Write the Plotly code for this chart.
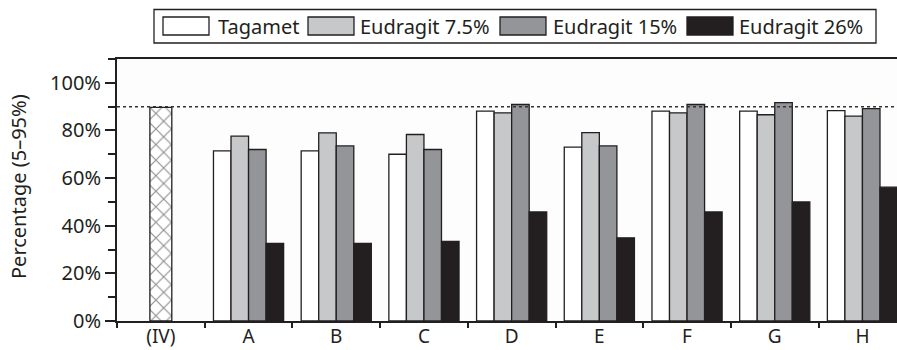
import plotly.graph_objects as go

# Categories and series values (percent)
categories = ["(IV)", "A", "B", "C", "D", "E", "F", "G", "H"]
groups = ["A", "B", "C", "D", "E", "F", "G", "H"]
iv_value = [89.7]
tagamet = [71.4, 71.4, 70.0, 88.1, 73.0, 88.1, 88.1, 88.3]
eud_7_5 = [77.6, 79.0, 78.3, 87.4, 79.1, 87.4, 86.6, 86.0]
eud_15 = [72.0, 73.5, 72.0, 90.9, 73.5, 90.9, 91.7, 89.2]
eud_26 = [32.6, 32.6, 33.4, 45.8, 34.9, 45.8, 50.0, 56.2]
reference_level = 90
y_ticks = [0, 20, 40, 60, 80, 100]
y_tick_text = [f"{v}%" for v in y_ticks]

series_names = ["Tagamet", "Eudragit 7.5%", "Eudragit 15%", "Eudragit 26%"]
series_values = [tagamet, eud_7_5, eud_15, eud_26]
colors = ["#ffffff", "#c7c8ca", "#939598", "#231f20"]
ink = "#231f20"
font_family = "Noto Sans, Open Sans, DejaVu Sans, sans-serif"

W, H = 897, 350
L, R, T, B = 117, 0, 59, 29
BAR_W = 0.2

fig = go.Figure()

fig.add_trace(go.Bar(
    x=["(IV)"], y=iv_value, width=0.25, offset=-0.125,
    marker=dict(color="#ffffff", line=dict(color=ink, width=1.3),
                pattern=dict(shape="x", fgcolor=ink, bgcolor="#ffffff",
                             size=11, solidity=0.2, fillmode="overlay")),
    showlegend=False, hoverinfo="x+y",
))

for i, (name, vals, col) in enumerate(zip(series_names, series_values, colors)):
    fig.add_trace(go.Bar(
        x=groups, y=vals, name=name, width=BAR_W, offset=-0.4 + i * BAR_W,
        marker=dict(color=col, line=dict(color=ink, width=1.3)),
        showlegend=False,
    ))

x_max = -0.5 + (W - L - R) / 87.7

# Reference line at 90 %
fig.add_shape(type="line", xref="paper", yref="y", x0=0, x1=1,
              y0=reference_level, y1=reference_level,
              line=dict(color="#333", width=1.5, dash="3px,3px"), layer="above")

# Legend box drawn in pixel space converted to paper coordinates
pw, ph = W - L - R, H - T - B
def px(x):
    return (x - L) / pw
def py(y):
    return (H - B - y) / ph

fig.add_shape(type="rect", xref="paper", yref="paper",
              x0=px(154), x1=px(876), y0=py(43), y1=py(9.5),
              line=dict(color=ink, width=1.3), fillcolor="#ffffff")
swatch_x = [163, 308, 500, 687]
text_x = [216, 358, 551, 737]
for name, col, sx, tx in zip(series_names, colors, swatch_x, text_x):
    fig.add_shape(type="rect", xref="paper", yref="paper",
                  x0=px(sx), x1=px(sx + 46), y0=py(35), y1=py(17),
                  line=dict(color=ink, width=1.3), fillcolor=col)
    fig.add_annotation(xref="paper", yref="paper", x=px(tx), y=py(26),
                       text=name, showarrow=False, xanchor="left", yanchor="middle",
                       font=dict(size=20, color=ink, family=font_family))

# Y axis title
fig.add_annotation(xref="paper", yref="paper", x=px(18), y=py(187),
                   text="Percentage (5–95%)", textangle=-90, showarrow=False,
                   xanchor="center", yanchor="middle",
                   font=dict(size=20, color=ink, family=font_family))

fig.update_layout(
    width=W, height=H,
    margin=dict(l=L, r=R, t=T, b=B, autoexpand=False),
    barmode="overlay",
    paper_bgcolor="#ffffff", plot_bgcolor="#fdfdfd",
    font=dict(family=font_family, size=20, color=ink),
    xaxis=dict(
        type="category", categoryorder="array", categoryarray=categories,
        range=[-0.5, x_max], tickson="boundaries", ticks="outside",
        ticklen=5, tickwidth=1.5, tickcolor=ink, ticklabelstandoff=-3,
        showline=True, linecolor=ink, linewidth=2, mirror=True,
        showgrid=False, zeroline=False, automargin=False,
        tickfont=dict(size=19, color=ink),
    ),
    xaxis2=dict(
        overlaying="x", anchor="y", range=[-0.5, x_max],
        tickvals=[k - 0.5 for k in range(len(categories) + 1)],
        ticks="inside", ticklen=5, tickwidth=1.5, tickcolor=ink,
        showticklabels=False, showgrid=False, zeroline=False, showline=False,
    ),
    yaxis=dict(
        range=[0, 110], tickvals=y_ticks, ticktext=y_tick_text,
        ticks="outside", ticklen=10, tickwidth=1.5, tickcolor=ink,
        minor=dict(dtick=10, tick0=0, ticks="outside", ticklen=7,
                   tickwidth=1.5, tickcolor=ink, showgrid=False),
        showline=True, linecolor=ink, linewidth=2,
        showgrid=False, zeroline=False, automargin=False,
        tickfont=dict(size=20, color=ink),
    ),
)

fig.write_html("out.html")
